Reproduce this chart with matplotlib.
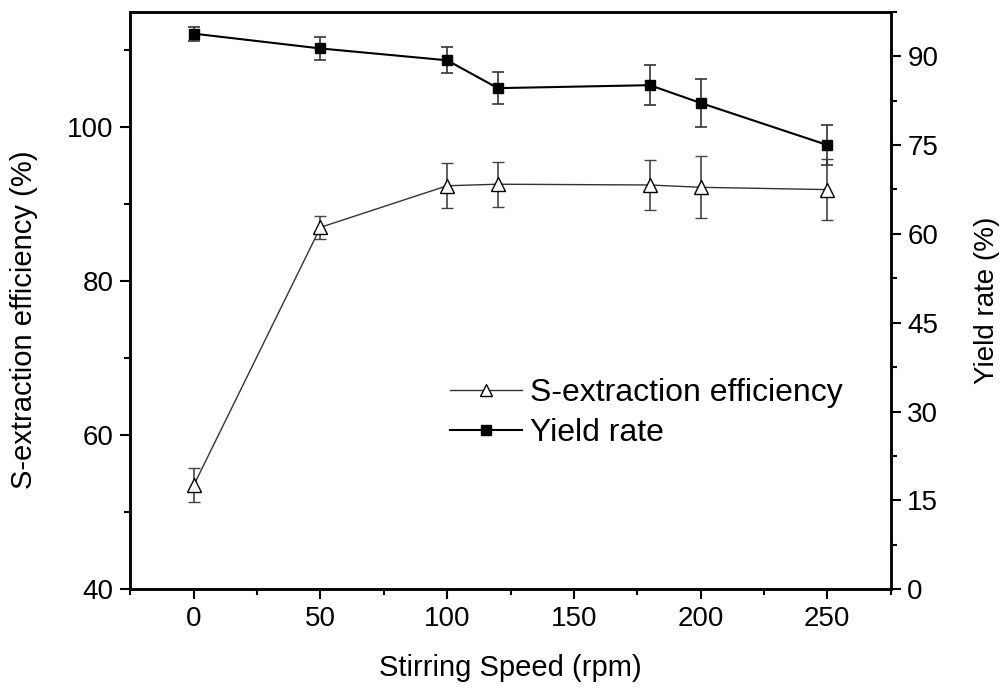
import matplotlib
matplotlib.use("Agg")
import matplotlib.pyplot as plt
from matplotlib.lines import Line2D
from matplotlib.ticker import MultipleLocator

plt.rcParams['font.family'] = ['Liberation Sans', 'DejaVu Sans']

speed = [0, 50, 100, 120, 180, 200, 250]
s_eff = [53.5, 87.0, 92.4, 92.6, 92.5, 92.2, 91.9]
s_err = [2.2, 1.5, 2.9, 2.9, 3.3, 4.0, 4.0]
yield_rate = [93.8, 91.3, 89.3, 84.6, 85.1, 82.1, 75.0]
yield_err = [1.2, 2.0, 2.2, 2.7, 3.4, 4.1, 3.3]

fig = plt.figure(figsize=(10.03, 6.90), dpi=100)
ax = fig.add_axes([0.130, 0.146, 0.758, 0.837])
ax2 = ax.twinx()

ax.errorbar(speed, s_eff, yerr=s_err, color='#333333', lw=1.0,
            marker='^', markersize=10, markerfacecolor='white',
            markeredgecolor='black', markeredgewidth=1.0,
            ecolor='#444444', elinewidth=1.2, capsize=4, capthick=1.2)
ax2.errorbar(speed, yield_rate, yerr=yield_err, color='black', lw=1.5,
             marker='s', markersize=7.5, markerfacecolor='black',
             markeredgecolor='black',
             ecolor='#333333', elinewidth=1.2, capsize=4, capthick=1.2)

ax.set_xlim(-25, 275)
ax.set_ylim(40, 115)
ax2.set_ylim(0, 97.5)

ax.xaxis.set_major_locator(MultipleLocator(50))
ax.xaxis.set_minor_locator(MultipleLocator(25))
ax.yaxis.set_major_locator(MultipleLocator(20))
ax.yaxis.set_minor_locator(MultipleLocator(10))
ax2.yaxis.set_major_locator(MultipleLocator(15))
ax2.yaxis.set_minor_locator(MultipleLocator(7.5))

for a in (ax, ax2):
    for sp in a.spines.values():
        sp.set_linewidth(1.8)
    a.tick_params(which='major', direction='out', length=7, width=1.5,
                  labelsize=20, pad=5)
    a.tick_params(which='minor', direction='out', length=4, width=1.5)
ax.tick_params(top=False, which='both')

ax.set_xlabel('Stirring Speed (rpm)', fontsize=21, labelpad=16)
ax.set_ylabel('S-extraction efficiency (%)', fontsize=21)
ax.yaxis.set_label_coords(-0.122, 0.466)
ax2.set_ylabel('Yield rate (%)', fontsize=20, labelpad=26)

handles = [
    Line2D([], [], color='#333333', lw=1.0, marker='^', markersize=8,
           markerfacecolor='white', markeredgecolor='black'),
    Line2D([], [], color='black', lw=1.5, marker='s', markersize=6.5,
           markerfacecolor='black', markeredgecolor='black'),
]
ax.legend(handles, ['S-extraction efficiency', 'Yield rate'],
          loc='center left', bbox_to_anchor=(0.42, 0.305), frameon=False,
          fontsize=23, handlelength=2.25, handletextpad=0.25,
          labelspacing=0.3, borderpad=0, borderaxespad=0)

fig.savefig('out.png', dpi=100)
